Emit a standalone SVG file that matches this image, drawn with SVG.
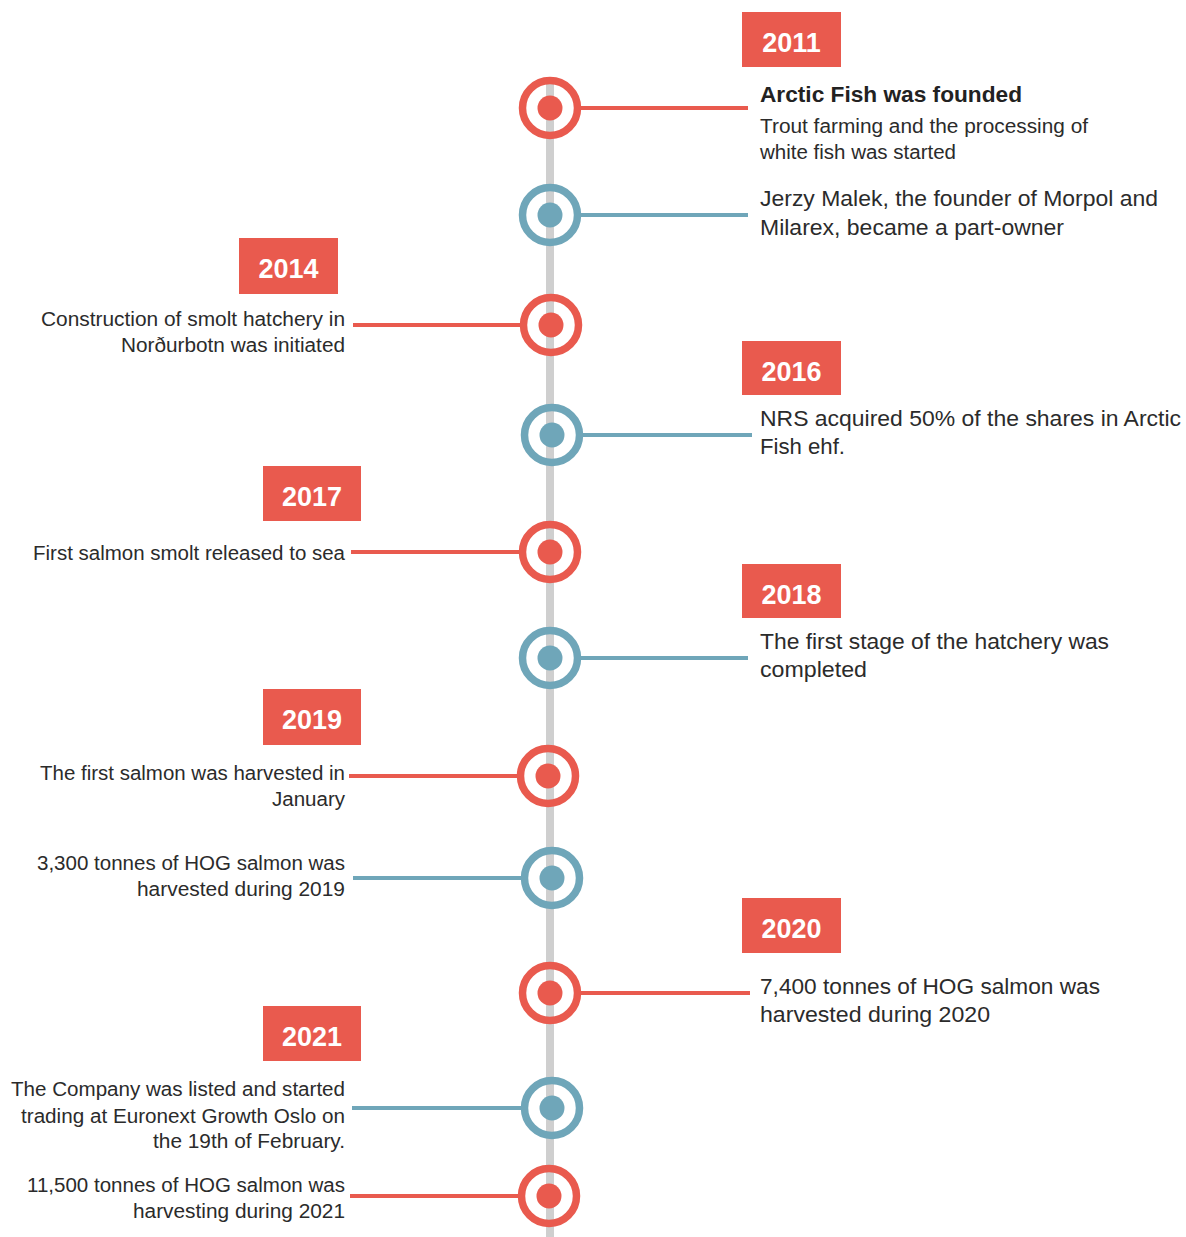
<svg xmlns="http://www.w3.org/2000/svg" width="1186" height="1237" viewBox="0 0 1186 1237">
<style>
.bg{fill:#ffffff}
.spine{stroke:#cfcfcf;stroke-width:8}
.cr{stroke:#e95a4e;stroke-width:4;fill:none}
.cb{stroke:#6fa6b9;stroke-width:4;fill:none}
.ringr{fill:none;stroke:#e95a4e;stroke-width:7.5}
.ringb{fill:none;stroke:#6fa6b9;stroke-width:7.5}
.dotr{fill:#e95a4e}
.dotb{fill:#6fa6b9}
.yb{fill:#e95a4e}
.yt{font-family:"Liberation Sans",Arial,sans-serif;font-weight:bold;font-size:27px;fill:#ffffff;text-anchor:middle}
.tr{font-family:"Liberation Sans",Arial,sans-serif;font-size:22px;fill:#2b2b2b}
.ts{font-family:"Liberation Sans",Arial,sans-serif;font-size:20px;fill:#2b2b2b}
.tl{font-family:"Liberation Sans",Arial,sans-serif;font-size:20px;fill:#2b2b2b;text-anchor:end}
.tb{font-family:"Liberation Sans",Arial,sans-serif;font-size:22px;font-weight:bold;fill:#222222}
</style>
<rect class="bg" x="0" y="0" width="1186" height="1237"/>
<line class="spine" x1="550" y1="80" x2="550" y2="1237"/>
<g id="connectors">
<line class="cr" x1="581" y1="108" x2="748" y2="108"/>
<line class="cb" x1="581" y1="215" x2="748" y2="215"/>
<line class="cr" x1="353" y1="325" x2="520" y2="325"/>
<line class="cb" x1="583" y1="435" x2="752" y2="435"/>
<line class="cr" x1="351" y1="552" x2="519" y2="552"/>
<line class="cb" x1="581" y1="658" x2="748" y2="658"/>
<line class="cr" x1="349" y1="776" x2="517" y2="776"/>
<line class="cb" x1="353" y1="878" x2="521" y2="878"/>
<line class="cr" x1="581" y1="993" x2="750" y2="993"/>
<line class="cb" x1="352" y1="1108" x2="521" y2="1108"/>
<line class="cr" x1="350" y1="1196" x2="518" y2="1196"/>
</g>
<g id="node-2011a">
<circle class="ringr" cx="550" cy="108" r="27.5"/><circle class="dotr" cx="550" cy="108" r="12.5"/>
<rect class="yb" x="742" y="12" width="99" height="55"/><text class="yt" x="791.5" y="52">2011</text>
<text class="tb" x="760" y="102" textLength="262" lengthAdjust="spacingAndGlyphs">Arctic Fish was founded</text>
<text class="ts" x="760" y="133" textLength="328" lengthAdjust="spacingAndGlyphs">Trout farming and the processing of</text>
<text class="ts" x="760" y="159" textLength="196" lengthAdjust="spacingAndGlyphs">white fish was started</text>
</g>
<g id="node-2011b">
<circle class="ringb" cx="550" cy="215" r="27.5"/><circle class="dotb" cx="550" cy="215" r="12.5"/>
<text class="tr" x="760" y="206" textLength="398" lengthAdjust="spacingAndGlyphs">Jerzy Malek, the founder of Morpol and</text>
<text class="tr" x="760" y="235" textLength="304" lengthAdjust="spacingAndGlyphs">Milarex, became a part-owner</text>
</g>
<g id="node-2014">
<circle class="ringr" cx="551" cy="325" r="27.5"/><circle class="dotr" cx="551" cy="325" r="12.5"/>
<rect class="yb" x="239" y="238" width="99" height="56"/><text class="yt" x="288.5" y="278">2014</text>
<text class="tl" x="345" y="326" textLength="304" lengthAdjust="spacingAndGlyphs">Construction of smolt hatchery in</text>
<text class="tl" x="345" y="352" textLength="224" lengthAdjust="spacingAndGlyphs">Norðurbotn was initiated</text>
</g>
<g id="node-2016">
<circle class="ringb" cx="552" cy="435" r="27.5"/><circle class="dotb" cx="552" cy="435" r="12.5"/>
<rect class="yb" x="742" y="341" width="99" height="54"/><text class="yt" x="791.5" y="381">2016</text>
<text class="tr" x="760" y="426" textLength="421" lengthAdjust="spacingAndGlyphs">NRS acquired 50% of the shares in Arctic</text>
<text class="tr" x="760" y="454" textLength="85" lengthAdjust="spacingAndGlyphs">Fish ehf.</text>
</g>
<g id="node-2017">
<circle class="ringr" cx="550" cy="552" r="27.5"/><circle class="dotr" cx="550" cy="552" r="12.5"/>
<rect class="yb" x="263" y="466" width="98" height="55"/><text class="yt" x="312" y="506">2017</text>
<text class="tl" x="345" y="560" textLength="312" lengthAdjust="spacingAndGlyphs">First salmon smolt released to sea</text>
</g>
<g id="node-2018">
<circle class="ringb" cx="550" cy="658" r="27.5"/><circle class="dotb" cx="550" cy="658" r="12.5"/>
<rect class="yb" x="742" y="564" width="99" height="54"/><text class="yt" x="791.5" y="604">2018</text>
<text class="tr" x="760" y="649" textLength="349" lengthAdjust="spacingAndGlyphs">The first stage of the hatchery was</text>
<text class="tr" x="760" y="677" textLength="107" lengthAdjust="spacingAndGlyphs">completed</text>
</g>
<g id="node-2019a">
<circle class="ringr" cx="548" cy="776" r="27.5"/><circle class="dotr" cx="548" cy="776" r="12.5"/>
<rect class="yb" x="263" y="689" width="98" height="56"/><text class="yt" x="312" y="729">2019</text>
<text class="tl" x="345" y="780" textLength="305" lengthAdjust="spacingAndGlyphs">The first salmon was harvested in</text>
<text class="tl" x="345" y="806" textLength="73" lengthAdjust="spacingAndGlyphs">January</text>
</g>
<g id="node-2019b">
<circle class="ringb" cx="552" cy="878" r="27.5"/><circle class="dotb" cx="552" cy="878" r="12.5"/>
<text class="tl" x="345" y="870" textLength="308" lengthAdjust="spacingAndGlyphs">3,300 tonnes of HOG salmon was</text>
<text class="tl" x="345" y="896" textLength="208" lengthAdjust="spacingAndGlyphs">harvested during 2019</text>
</g>
<g id="node-2020">
<circle class="ringr" cx="550" cy="993" r="27.5"/><circle class="dotr" cx="550" cy="993" r="12.5"/>
<rect class="yb" x="742" y="898" width="99" height="55"/><text class="yt" x="791.5" y="938">2020</text>
<text class="tr" x="760" y="994" textLength="340" lengthAdjust="spacingAndGlyphs">7,400 tonnes of HOG salmon was</text>
<text class="tr" x="760" y="1022" textLength="230" lengthAdjust="spacingAndGlyphs">harvested during 2020</text>
</g>
<g id="node-2021a">
<circle class="ringb" cx="552" cy="1108" r="27.5"/><circle class="dotb" cx="552" cy="1108" r="12.5"/>
<rect class="yb" x="263" y="1006" width="98" height="55"/><text class="yt" x="312" y="1046">2021</text>
<text class="tl" x="345" y="1096" textLength="334" lengthAdjust="spacingAndGlyphs">The Company was listed and started</text>
<text class="tl" x="345" y="1123" textLength="324" lengthAdjust="spacingAndGlyphs">trading at Euronext Growth Oslo on</text>
<text class="tl" x="345" y="1148" textLength="192" lengthAdjust="spacingAndGlyphs">the 19th of February.</text>
</g>
<g id="node-2021b">
<circle class="ringr" cx="549" cy="1196" r="27.5"/><circle class="dotr" cx="549" cy="1196" r="12.5"/>
<text class="tl" x="345" y="1192" textLength="318" lengthAdjust="spacingAndGlyphs">11,500 tonnes of HOG salmon was</text>
<text class="tl" x="345" y="1218" textLength="212" lengthAdjust="spacingAndGlyphs">harvesting during 2021</text>
</g>
</svg>
